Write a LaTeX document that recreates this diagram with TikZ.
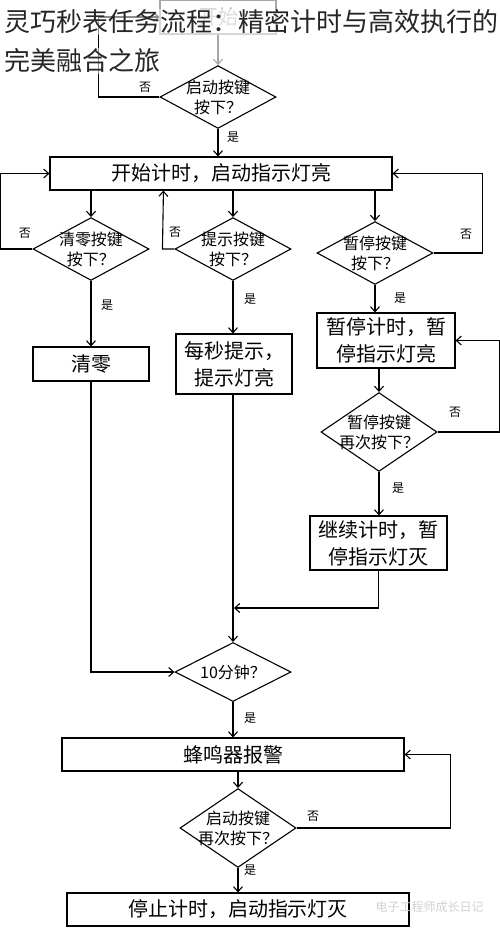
\documentclass[tikz,border=0pt]{standalone}
\usepackage{fontspec}
\setmainfont{Noto Sans CJK SC}
\usetikzlibrary{positioning}
\usetikzlibrary{calc}
\usetikzlibrary{shapes.geometric}
\usetikzlibrary{arrows.meta}

\tikzset{
  block/.style={draw, line width=1.1pt, inner sep=0pt, align=center, font=\fontsize{20}{27}\selectfont},
  decision/.style={draw, diamond, line width=1.1pt, inner sep=-9pt, align=center, minimum width=116pt, minimum height=59pt, font=\fontsize{16}{20}\selectfont},
  yesno/.style={font=\fontsize{12}{14}\selectfont},
  flow/.style={line width=1.1pt, -{Straight Barb[length=5pt,width=9pt]}},
  titletext/.style={anchor=west, inner sep=1pt, fill=white, fill opacity=0.55, text opacity=1, text=black!85, font=\fontsize{26}{30}\selectfont},
}

\begin{document}
\begin{tikzpicture}[x=1pt,y=-1pt]
	\useasboundingbox (0,0) rectangle (500,930);
	% start
	\node[block, draw=black!35, text=black!30, minimum width=116pt, minimum height=34pt] (start) at (218,17) {开始};
	\node[decision] (d1) at (218,97) {启动按键\\按下？};
	\node[block, minimum width=342pt, minimum height=33pt] (mbox) at (221,173.5) {开始计时，启动指示灯亮};
	% three branches
	\node[decision] (dclear) at (91,249) {清零按键\\按下？};
	\node[decision] (dhint) at (233,249) {提示按键\\按下？};
	\node[decision] (dpause) at (375,253) {暂停按键\\按下？};
	\node[block, minimum width=116pt, minimum height=34pt] (cbox) at (91,364) {清零};
	\node[block, minimum width=116pt, minimum height=60pt] (hbox) at (234,364) {每秒提示，\\提示灯亮};
	\node[block, minimum width=138pt, minimum height=55pt] (pbox) at (386,340.5) {暂停计时，暂\\停指示灯亮};
	\node[decision] (dresume) at (379,432) {暂停按键\\再次按下？};
	\node[block, minimum width=137pt, minimum height=54pt] (rbox) at (378.5,543) {继续计时，暂\\停指示灯灭};
	\coordinate (join) at (234,608);
	% end part
	\node[decision] (dten) at (233,672) {10分钟？};
	\node[block, minimum width=342pt, minimum height=33pt] (bbox) at (233,754.5) {蜂鸣器报警};
	\node[decision] (dstop) at (238,828) {启动按键\\再次按下？};
	\node[block, minimum width=342pt, minimum height=33pt] (sbox) at (238,909.5) {停止计时，启动指示灯灭};

	\draw[flow][color=black!35] (start) -- (d1);
	\draw[flow] (d1.west) -- ++(-61,0) |- (start.west);
	\draw[flow] (d1.south) -- (d1.south |- mbox.north);
	\draw[flow] (mbox.south -| dclear.north) -- (dclear.north);
	\draw[flow] (mbox.south -| dhint.north) -- (dhint.north);
	\draw[flow] (mbox.south -| dpause.north) -- (dpause.north);
	\draw[flow] (dclear.west) -- ++(-32,0) |- (mbox.west);
	\draw[flow] (dhint.west) -- ++(-12,0) -- ($(mbox.south west)+(114,0)$);
	\draw[flow] (dpause.east) -- ++(49,0) |- (mbox.east);
	\draw[flow] (dclear.south) -- (dclear.south |- cbox.north);
	\draw[flow] (dhint.south) -- (dhint.south |- hbox.north);
	\draw[flow] (dpause.south) -- (dpause.south |- pbox.north);
	\draw[flow] (pbox.south -| dresume.north) -- (dresume.north);
	\draw[flow] (dresume.east) -- ++(62,0) |- (pbox.east);
	\draw[flow] (dresume.south) -- (dresume.south |- rbox.north);
	\draw[flow] (rbox.south) |- (join);
	\draw[flow] (hbox.south -| dten.north) -- (dten.north);
	\draw[flow] (cbox.south) |- (dten.west);
	\draw[flow] (dten.south) -- (dten.south |- bbox.north);
	\draw[flow] (bbox.south -| dstop.north) -- (dstop.north);
	\draw[flow] (dstop.east) -- ++(154,0) |- (bbox.east);
	\draw[flow] (dstop.south) -- (dstop.south |- sbox.north);

	% yes / no labels
	\foreach \name/\pos/\txt in {n1/{145,87}/否, y1/{233,137}/是, n2/{25,233}/否, y2/{107,305}/是,
	  n3/{175,232}/否, y3/{250,299}/是, n4/{466,234}/否, y4/{400,298}/是, n5/{455,412}/否,
	  y5/{398,488}/是, y6/{250,718}/是, n7/{313,816}/否, y7/{250,870}/是}
	  \node[yesno] (\name) at (\pos) {\txt};

	% title over the top
	\node[titletext] (title1) at (3,22) {灵巧秒表任务流程：精密计时与高效执行的};
	\node[titletext] (title2) at (3,61) {完美融合之旅};
	\node[text=black!18, font=\fontsize{12}{14}\selectfont, anchor=west] (mark) at (372,907) {电子工程师成长日记};
\end{tikzpicture}
\end{document}
